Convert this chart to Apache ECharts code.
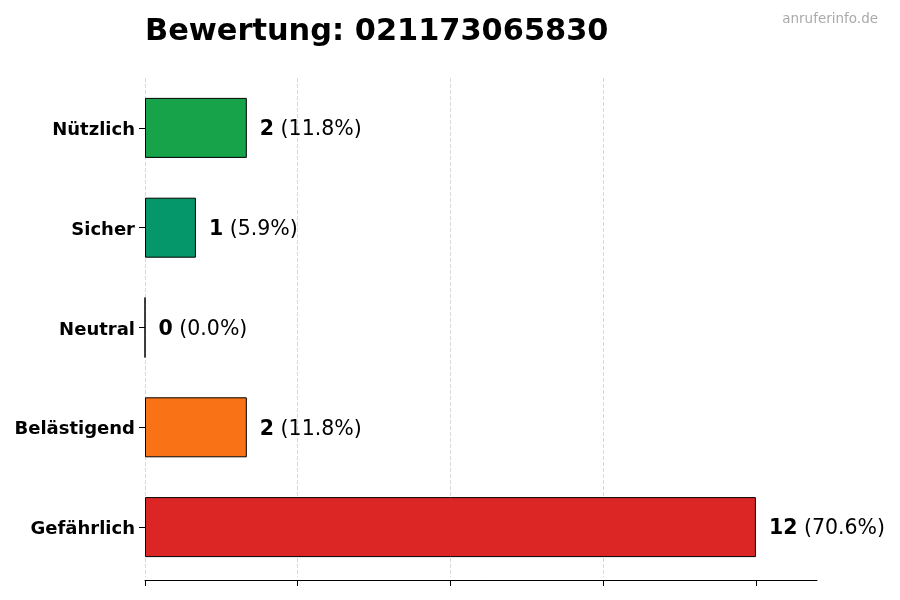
<!DOCTYPE html>
<html>
<head>
<meta charset="utf-8">
<script src="https://cdn.jsdelivr.net/npm/echarts@6/dist/echarts.min.js"></script>
<style>html,body{margin:0;padding:0;background:#fff}#c{width:900px;height:600px}</style>
</head>
<body>
<div id="c"></div>
<script>
const categories = ['Nützlich', 'Sicher', 'Neutral', 'Belästigend', 'Gefährlich'];
const values = [2, 1, 0, 2, 12];
const colors = ['#16a34a', '#059669', '#9ca3af', '#f97316', '#dc2626'];
const xTicks = [0, 3, 6, 9, 12];
const titleText = 'Bewertung: 021173065830';
const watermark = 'anruferinfo.de';

const total = values.reduce((a, b) => a + b, 0);
const chart = echarts.init(document.getElementById('c'));
const FONT = 'DejaVu Sans';
chart.setOption({
  animation: false,
  backgroundColor: '#fff',
  title: [{
    text: titleText, left: 140, top: 12,
    textStyle: { fontFamily: FONT, fontSize: 30.4, fontWeight: 'bold', color: '#000' }
  }, {
    text: watermark, right: 17, top: 7,
    textStyle: { fontFamily: FONT, fontSize: 13.5, fontWeight: 'normal', color: '#aaaaaa' }
  }],
  grid: { left: 145, right: 83, top: 78, bottom: 23, containLabel: false },
  xAxis: {
    type: 'value', min: 0, max: 13.2, interval: 3,
    offset: 3,
    axisLine: { show: true, lineStyle: { color: '#000', width: 1 } },
    axisTick: { show: true, length: 6, customValues: xTicks, lineStyle: { color: '#000' } },
    axisLabel: { show: false },
    splitLine: { show: true, showMaxLine: false, lineStyle: { type: 'dashed', color: '#d9d9d9', width: 1 } }
  },
  yAxis: {
    type: 'category', data: categories, inverse: true,
    axisLine: { show: false },
    axisTick: { show: true, alignWithLabel: true, length: 6, lineStyle: { color: '#000' } },
    axisLabel: {
      margin: 10,
      formatter: v => '{a|' + v + '}',
      rich: { a: { fontFamily: FONT, fontSize: 18, fontWeight: 'bold', color: '#000', padding: [5, 0, 0, 0] } }
    }
  },
  series: [{
    type: 'bar',
    barWidth: 60,
    data: values.map((v, i) => ({
      value: v,
      itemStyle: { color: colors[i], borderColor: '#000', borderWidth: 1 }
    })),
    label: {
      show: true, position: 'right', distance: 13,
      formatter: p => '{b|' + p.value + '}{n|\u00a0(' + (p.value / total * 100).toFixed(1) + '%)}',
      rich: {
        b: { fontFamily: FONT, fontSize: 20.5, fontWeight: 'bold', color: '#000', padding: [4, 0, 0, 0] },
        n: { fontFamily: FONT, fontSize: 20.5, color: '#000', padding: [4, 0, 0, 0] }
      }
    }
  }]
});
</script>
</body>
</html>
